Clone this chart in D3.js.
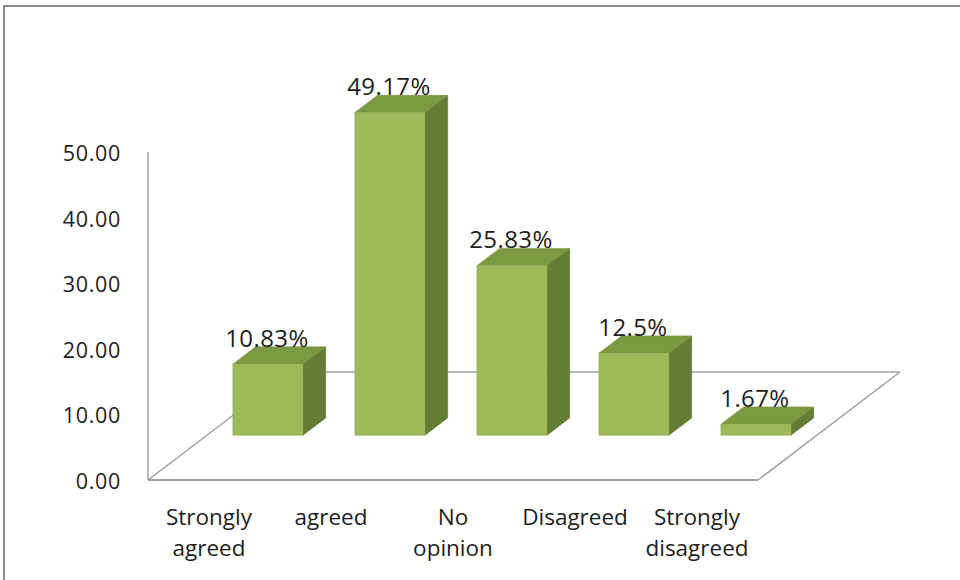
<!DOCTYPE html>
<html>
<head>
<meta charset="utf-8">
<script src="https://cdn.jsdelivr.net/npm/d3@7"></script>
<style>
  html, body { margin: 0; padding: 0; background: #fff; }
  svg { display: block; }
  text { font-family: "Open Sans", "Liberation Sans", sans-serif; fill: #1e1e1e; }
</style>
</head>
<body>
<svg id="chart" width="960" height="580"></svg>
<script>
// Survey responses (percent of respondents)
const categories = ["Strongly agreed", "agreed", "No opinion", "Disagreed", "Strongly disagreed"];
const categoryLines = [["Strongly", "agreed"], ["agreed"], ["No", "opinion"], ["Disagreed"], ["Strongly", "disagreed"]];
const values = [10.83, 49.17, 25.83, 12.5, 1.67];
const valueLabels = ["10.83%", "49.17%", "25.83%", "12.5%", "1.67%"];
const tickValues = [0, 10, 20, 30, 40, 50];

const svg = d3.select("#chart");

// Outer frame
svg.append("rect")
  .attr("x", 4).attr("y", 6).attr("width", 980).attr("height", 600)
  .attr("fill", "none").attr("stroke", "#8a8a8a").attr("stroke-width", 2);

// Front edge of the floor and the oblique depth vector
const x0 = 148, x1 = 758, yFloor = 480;
const depth = { dx: 142, dy: -108 };
const f0 = 0.415, f1 = 0.575; // depth fractions of a bar's front and back faces

const x = d3.scaleBand().domain(categories).range([x0, x1]);
const y = d3.scaleLinear().domain([0, 50]).range([yFloor, 152]);
const unit = y(0) - y(1);

const axisColor = "#a0a0a0";
const g = svg.append("g");

// Floor outline and vertical wall edge
g.append("line").attr("x1", x0 + depth.dx).attr("y1", yFloor + depth.dy)
  .attr("x2", x1 + depth.dx).attr("y2", yFloor + depth.dy)
  .attr("stroke", axisColor).attr("stroke-width", 1.5);
g.append("line").attr("x1", x0).attr("y1", yFloor)
  .attr("x2", x0 + depth.dx).attr("y2", yFloor + depth.dy)
  .attr("stroke", axisColor).attr("stroke-width", 1.5);
g.append("line").attr("x1", x1).attr("y1", yFloor)
  .attr("x2", x1 + depth.dx).attr("y2", yFloor + depth.dy)
  .attr("stroke", axisColor).attr("stroke-width", 1.5);
g.append("line").attr("x1", x0).attr("y1", yFloor)
  .attr("x2", x1).attr("y2", yFloor)
  .attr("stroke", axisColor).attr("stroke-width", 2);
g.append("line").attr("x1", x0).attr("y1", y(50))
  .attr("x2", x0).attr("y2", yFloor)
  .attr("stroke", axisColor).attr("stroke-width", 1.5);

// Value-axis tick labels
g.selectAll(".tick-label").data(tickValues).join("text")
  .attr("class", "tick-label")
  .attr("x", 121).attr("y", d => y(d) + 9)
  .attr("text-anchor", "end")
  .attr("font-size", 21.5).style("letter-spacing", "0.7px")
  .text(d => d3.format(".2f")(d));

// 3D columns
const barW = x.bandwidth() * 0.574;
const bdx = (f1 - f0) * depth.dx, bdy = (f1 - f0) * depth.dy;
const bars = g.selectAll(".bar").data(categories.map((c, i) => ({ c, v: values[i], label: valueLabels[i] })))
  .join("g").attr("class", "bar");

bars.each(function (d) {
  const gb = d3.select(this);
  const left = x(d.c) + (x.bandwidth() - barW) / 2 + f0 * depth.dx;
  const base = yFloor + f0 * depth.dy;
  const top = base - d.v * unit;
  const right = left + barW;
  // side face
  gb.append("path")
    .attr("d", `M${right},${base}L${right + bdx},${base + bdy}L${right + bdx},${top + bdy}L${right},${top}Z`)
    .attr("fill", "#647d35").attr("stroke", "#5c742f").attr("stroke-width", 0.6);
  // top face
  gb.append("path")
    .attr("d", `M${left},${top}L${left + bdx},${top + bdy}L${right + bdx},${top + bdy}L${right},${top}Z`)
    .attr("fill", "#7a9a42").attr("stroke", "#728f3d").attr("stroke-width", 0.6);
  // front face
  gb.append("rect")
    .attr("x", left).attr("y", top).attr("width", barW).attr("height", base - top)
    .attr("fill", "#9bbb59").attr("stroke", "#8fae50").attr("stroke-width", 0.6);
  // value label
  gb.append("text")
    .attr("x", left + barW / 2 - 1).attr("y", top + bdy)
    .attr("text-anchor", "middle")
    .attr("font-size", 24).style("letter-spacing", "0.4px")
    .text(d.label);
});

// Category labels along the front edge
g.selectAll(".cat").data(categories).join("text")
  .attr("class", "cat")
  .attr("text-anchor", "middle")
  .attr("font-size", 22.5)
  .attr("x", d => x(d) + x.bandwidth() / 2)
  .attr("y", 525)
  .each(function (d, i) {
    const t = d3.select(this);
    categoryLines[i].forEach((line, j) => {
      t.append("tspan").attr("x", x(d) + x.bandwidth() / 2).attr("y", 525 + j * 31).text(line);
    });
  });
</script>
</body>
</html>
